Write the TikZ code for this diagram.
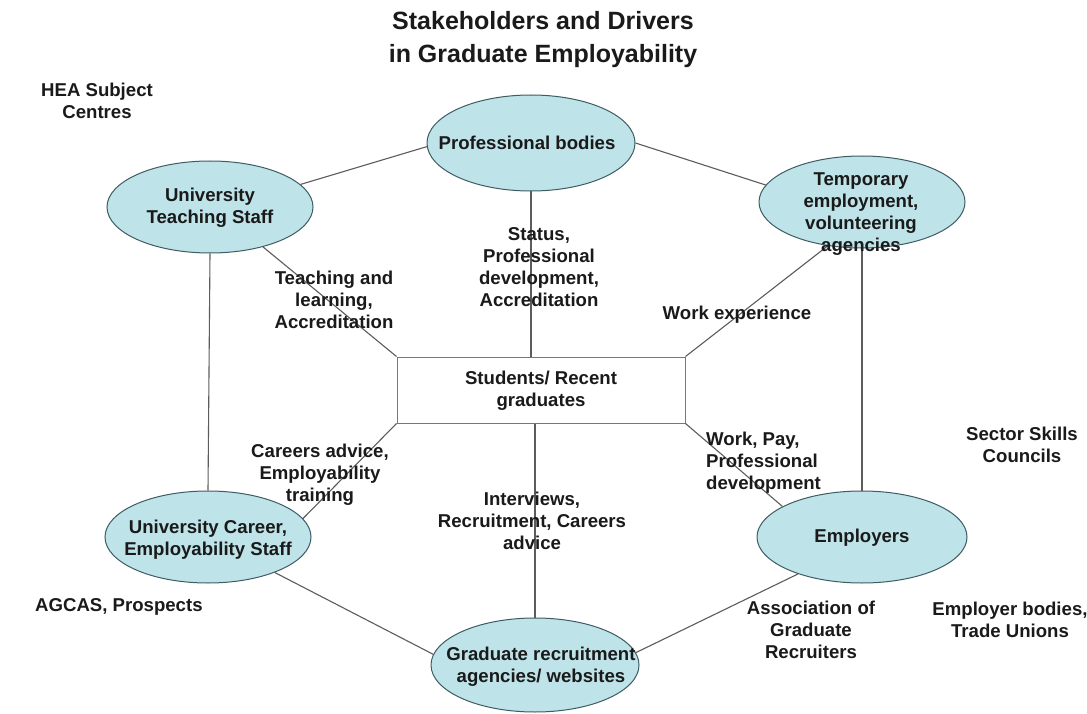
\documentclass[tikz,border=0pt]{standalone}
\usepackage{fontspec}
\setmainfont{Liberation Sans}
\usetikzlibrary{shapes.geometric}
\definecolor{efill}{HTML}{BEE3E8}
\definecolor{edraw}{HTML}{3E5C62}
\definecolor{linkcol}{HTML}{5C5C5C}
\definecolor{boxcol}{HTML}{777777}
\definecolor{ink}{HTML}{1A1A1A}

\begin{document}
\begin{tikzpicture}[x=1pt,y=-1pt,
  actor/.style={ellipse, draw=edraw, fill=efill, line width=1pt, inner sep=0pt},
  txt/.style={text=ink, font=\fontsize{18.6}{22}\selectfont\bfseries, align=center, inner sep=0pt},
  ltxt/.style={txt, align=left},
  link/.style={draw=linkcol, line width=1.1pt},
]
\useasboundingbox (0,0) rectangle (1087,714);
\fill[white] (0,0) rectangle (1087,714);

% title
\node[txt, font=\fontsize{25}{33}\selectfont\bfseries] (title) at (543,40)
  {Stakeholders and Drivers\\in Graduate Employability};

% stakeholders
\node[actor, minimum width=208pt, minimum height=96pt] (prof)   at (531,143) {};
\node[actor, minimum width=206pt, minimum height=92pt] (teach)  at (210,207) {};
\node[actor, minimum width=206pt, minimum height=92pt] (temp)   at (862,202) {};
\node[actor, minimum width=206pt, minimum height=92pt] (career) at (208,537) {};
\node[actor, minimum width=210pt, minimum height=92pt] (emp)    at (862,537) {};
\node[actor, minimum width=208pt, minimum height=94pt] (grad)   at (535,665) {};
\node[draw=boxcol, fill=white, line width=1pt, minimum width=288pt, minimum height=66pt,
      inner sep=0pt] (stud) at (541,390) {};

% connectors
\draw[link] (teach.14) -- (prof.182);
\draw[link] (prof.0) -- (temp.170);
\draw[link] (prof.south) -- (prof.south |- stud.north);
\draw[link] (teach.-37) -- (stud.north west);
\draw[link] (temp.-128) -- (stud.north east);
\draw[link] (teach.south) -- (career.north);
\draw[link] (temp.south) -- (emp.north);
\draw[link] (stud.south west) -- (career.11);
\draw[link] (stud.south east) -- (emp.159);
\draw[link] (stud.south -| grad.north) -- (grad.north);
\draw[link] (career.-28) -- (grad.174);
\draw[link] (grad.7) -- (emp.-150);

% texts inside the shapes
\node[txt] (proft)   at (527,143) {Professional bodies};
\node[txt] (teacht)  at (210,208) {University\\Teaching Staff};
\node[txt] (tempt)   at (861,214) {Temporary\\employment,\\volunteering\\agencies};
\node[txt] (careert) at (208,540) {University Career,\\Employability Staff};
\node[txt] (empt)    at (862,538) {Employers};
\node[txt] (gradt)   at (541,667) {Graduate recruitment\\agencies/ websites};
\node[txt] (studt)   at (541,391) {Students/ Recent\\graduates};

% drivers on the connectors
\node[txt] (d1) at (334,300) {Teaching and\\learning,\\Accreditation};
\node[txt] (d2) at (539,267) {Status,\\Professional\\development,\\Accreditation};
\node[txt] (d3) at (737,315) {Work experience};
\node[txt] (d4) at (320,475) {Careers advice,\\Employability\\training};
\node[ltxt, anchor=west] (d5) at (706,463) {Work, Pay,\\Professional\\development};
\node[txt] (d6) at (532,521) {Interviews,\\Recruitment, Careers\\advice};

% bodies around the diagram
\node[txt] (b1) at (97,101)   {HEA Subject\\Centres};
\node[txt] (b2) at (1022,445) {Sector Skills\\Councils};
\node[ltxt, anchor=west] (b3) at (35,607) {AGCAS, Prospects};
\node[txt] (b4) at (811,630)  {Association of\\Graduate\\Recruiters};
\node[txt] (b5) at (1010,620) {Employer bodies,\\Trade Unions};
\end{tikzpicture}
\end{document}
